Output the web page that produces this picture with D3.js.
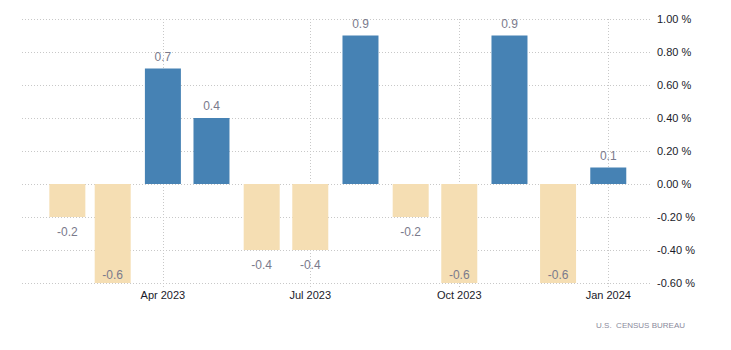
<!DOCTYPE html>
<html>
<head>
<meta charset="utf-8">
<script src="https://cdn.jsdelivr.net/npm/d3@7"></script>
<style>
    body { margin: 0; background: #fff; }
    svg { display: block; }
</style>
</head>
<body>
<div id="chart"></div>
<script>
const months = ["2023-02", "2023-03", "2023-04", "2023-05", "2023-06", "2023-07",
                "2023-08", "2023-09", "2023-10", "2023-11", "2023-12", "2024-01"]
const values = [-0.2, -0.6, 0.7, 0.4, -0.4, -0.4, 0.9, -0.2, -0.6, 0.9, -0.6, 0.1]
const yTicks = [-0.6, -0.4, -0.2, 0, 0.2, 0.4, 0.6, 0.8, 1.0]
const xTicks = ["2023-04", "2023-07", "2023-10", "2024-01"]
const sourceLabel = "U.S.  CENSUS BUREAU"

const width = 731
const height = 350
const margin = { top: 19, left: 22, right: 79, bottom: 67 }
const barWidth = 36

const parseMonth = d3.timeParse("%Y-%m")
const data = months.map((m, i) => ({ date: parseMonth(m), value: values[i] }))

// plain hyphen for negatives, like the original
const locale = d3.formatLocale({ decimal: ".", thousands: ",", grouping: [3], currency: ["", ""], minus: "-" })
const valueFormat = locale.format(".1f")
const tickFormat = locale.format(".2f")

const x = d3.scaleTime()
    .domain([new Date(2023, 0, 4), new Date(2024, 0, 28)])
    .range([margin.left, width - margin.right])

const y = d3.scaleLinear()
    .domain([-0.6, 1.0])
    .range([height - margin.bottom, margin.top])

const svg = d3.select("#chart").append("svg")
    .attr("width", width)
    .attr("height", height)

const font = "'Liberation Sans', Arial, sans-serif"

// horizontal grid
svg.append("g")
    .attr("class", "ygrid")
    .selectAll("line")
    .data(yTicks)
    .enter()
    .append("line")
    .attr("x1", margin.left)
    .attr("x2", width - margin.right)
    .attr("y1", d => Math.round(y(d)) + 0.5)
    .attr("y2", d => Math.round(y(d)) + 0.5)
    .attr("stroke", "#c8c8c8")
    .attr("stroke-dasharray", "1,2")

// vertical grid at month ticks
svg.append("g")
    .attr("class", "xgrid")
    .selectAll("line")
    .data(xTicks.map(parseMonth))
    .enter()
    .append("line")
    .attr("x1", d => Math.round(x(d)) + 0.5)
    .attr("x2", d => Math.round(x(d)) + 0.5)
    .attr("y1", margin.top)
    .attr("y2", height - margin.bottom + 4)
    .attr("stroke", "#c8c8c8")
    .attr("stroke-dasharray", "1,2")

// bars
svg.append("g")
    .attr("class", "bars")
    .selectAll("rect")
    .data(data)
    .enter()
    .append("rect")
    .attr("x", d => x(d.date) - barWidth / 2)
    .attr("width", barWidth)
    .attr("y", d => Math.min(y(d.value), y(0)))
    .attr("height", d => Math.abs(y(d.value) - y(0)))
    .attr("fill", d => d.value >= 0 ? "#4682b4" : "#f5deb3")

// value labels
svg.append("g")
    .attr("class", "labels")
    .selectAll("text")
    .data(data)
    .enter()
    .append("text")
    .attr("x", d => x(d.date))
    .attr("y", d => {
        if (d.value >= 0) return y(d.value) - 8
        const below = y(d.value) + 18.5
        // no room under the bar: put it inside
        return below > height - margin.bottom ? y(d.value) - 4.5 : below
    })
    .attr("text-anchor", "middle")
    .style("font-family", font)
    .style("font-size", "12px")
    .style("fill", "#7a7a8c")
    .text(d => valueFormat(d.value))

// y axis labels
svg.append("g")
    .attr("class", "yaxis")
    .selectAll("text")
    .data(yTicks)
    .enter()
    .append("text")
    .attr("x", width - margin.right + 5)
    .attr("y", d => y(d) + 4)
    .style("font-family", font)
    .style("font-size", "11px")
    .style("fill", "#1a1a2a")
    .text(d => tickFormat(d) + " %")

// x axis labels
svg.append("g")
    .attr("class", "xaxis")
    .selectAll("text")
    .data(xTicks.map(parseMonth))
    .enter()
    .append("text")
    .attr("x", d => x(d))
    .attr("y", height - margin.bottom + 16)
    .attr("text-anchor", "middle")
    .style("font-family", font)
    .style("font-size", "11px")
    .style("fill", "#1a1a2a")
    .text(d => d3.timeFormat("%b %Y")(d))

svg.append("text")
    .attr("x", 685)
    .attr("y", 328)
    .attr("text-anchor", "end")
    .style("font-family", font)
    .style("font-size", "8px")
    .style("fill", "#8a8a9c")
    .style("white-space", "pre")
    .text(sourceLabel)
</script>
</body>
</html>
